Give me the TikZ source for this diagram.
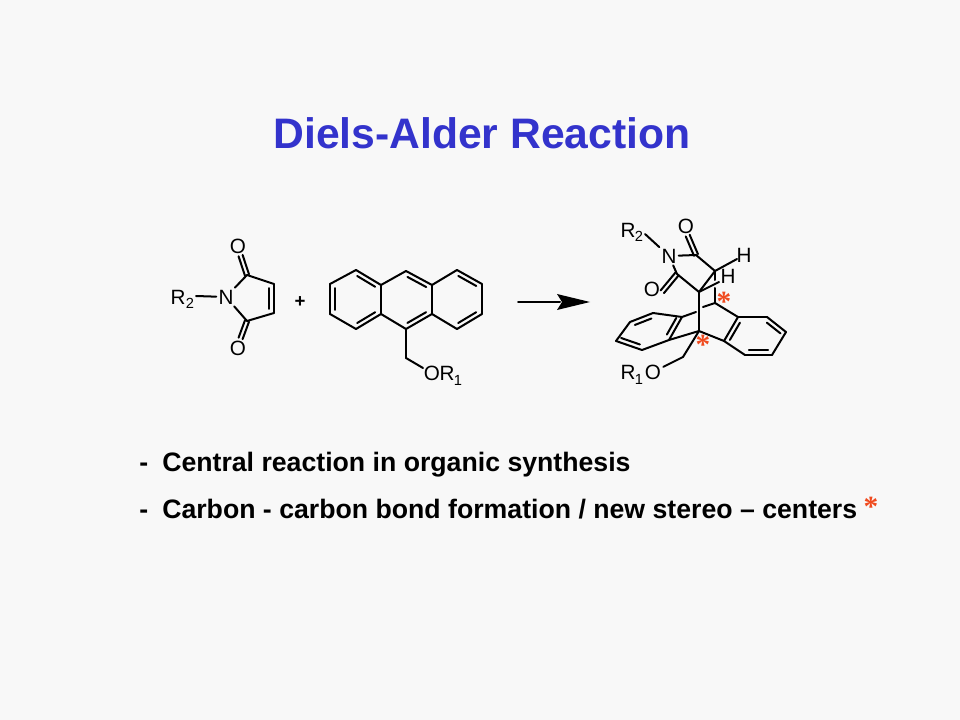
\documentclass[tikz,border=0pt]{standalone}
\usepackage{fontspec}
\setmainfont{Liberation Sans}
\newfontfamily\starfont{Liberation Serif}
\usetikzlibrary{calc}
\definecolor{pagebg}{HTML}{F8F8F8}
\definecolor{titleblue}{HTML}{3333CC}
\definecolor{starred}{HTML}{F04A1E}
\tikzset{
  bond/.style={line width=1.5pt,line cap=round,line join=round,black},
  atomlbl/.style={font=\fontsize{15.5pt}{17pt}\selectfont,inner sep=1.5pt,text=black},
  sublbl/.style={font=\fontsize{11pt}{12pt}\selectfont,inner sep=0pt,text=black},
  star/.style={font=\starfont\bfseries\fontsize{22pt}{22pt}\selectfont,inner sep=0pt,text=starred},
  titletext/.style={font=\fontsize{32pt}{36pt}\selectfont\bfseries,text=titleblue,inner sep=0pt,anchor=base},
  linetext/.style={font=\fontsize{20pt}{22pt}\selectfont\bfseries,text=black,anchor=base west,inner sep=0pt},
}
% parallel line beside a bond: from, to, offset, trim fraction
\newcommand{\dblb}[4]{\draw[bond] ($(#1)!#4!(#2)!#3!90:(#2)$) -- ($(#2)!#4!(#1)!#3!-90:(#1)$);}
% carbonyl: two parallel lines
\newcommand{\twin}[2]{\dblb{#1}{#2}{1.6pt}{0}\dblb{#1}{#2}{-1.6pt}{0}}
\newcommand{\bonds}[1]{\foreach \pa/\pb in {#1}{\draw[bond] (\pa) -- (\pb);}}
\begin{document}
\begin{tikzpicture}[x=0.75pt,y=-0.75pt]
\useasboundingbox[fill=pagebg] (0,0) rectangle (960,720);
\node[titletext] (title) at (482,149) {Diels-Alder Reaction};

% ---- maleimide
\node[atomlbl] (mR) at (178,297) {R};
\node[sublbl] (mR2) at (190,303) {2};
\node[atomlbl] (mN) at (226,297) {N};
\node[atomlbl] (mO1) at (238,246) {O};
\node[atomlbl] (mO2) at (238,348) {O};
\coordinate (mRb) at (196,296);
\foreach \n/\x/\y in {ma/247/275,mb/274/284,mc/274/313,md/247/321}{\coordinate (\n) at (\x,\y);}
\bonds{mRb/mN,mN/ma,ma/mb,mb/mc,mc/md,md/mN}
\twin{ma}{mO1.-75}
\twin{md}{mO2.75}
\dblb{mb}{mc}{-3.4pt}{.14}
\node[font=\fontsize{14pt}{16pt}\selectfont\bfseries,inner sep=0pt] (plus) at (300,302) {+};

% ---- anthracene
\foreach \n/\x/\y in {a1/330/284,a2/356/270,a3/381/285,a4/406/271,a5/432/285,a6/457/270,a7/482/284,a8/482/314,a9/457/329,a10/432/314,a11/406/329,a12/381/314,a13/356/329,a14/330/314,a15/406/358,a16/423/368}{\coordinate (\n) at (\x,\y);}
\bonds{a1/a2,a2/a3,a3/a4,a4/a5,a5/a6,a6/a7,a7/a8,a8/a9,a9/a10,a10/a11,a11/a12,a12/a13,a13/a14,a14/a1,a3/a12,a5/a10,a11/a15,a15/a16}
\dblb{a1}{a14}{3.4pt}{.14}
\dblb{a2}{a3}{-3.4pt}{.14}
\dblb{a12}{a13}{-3.4pt}{.14}
\dblb{a4}{a5}{-3.4pt}{.14}
\dblb{a6}{a7}{-3.4pt}{.14}
\dblb{a8}{a9}{-3.4pt}{.14}
\dblb{a10}{a11}{-3.4pt}{.14}
\node[atomlbl] (aO) at (432,373) {O};
\node[atomlbl] (aR) at (447,373) {R};
\node[sublbl] (aR1) at (458,380) {1};

% ---- arrow
\coordinate (arrS) at (518,302);
\coordinate (arrE) at (590,302);
\draw[bond] (arrS) -- (560,302);
\fill[black] (arrE) -- (557,294) -- (562,302) -- (557,310) -- cycle;

% ---- product
\node[atomlbl] (pR) at (628,230) {R};
\node[sublbl] (pR2) at (639,236) {2};
\node[atomlbl] (pN) at (669,256) {N};
\node[atomlbl] (pO1) at (686,226) {O};
\node[atomlbl] (pO2) at (652,289) {O};
\node[atomlbl] (pH1) at (744,255) {H};
\node[atomlbl] (pH2) at (728,276) {H};
\node[atomlbl] (pR1) at (628,372) {R};
\node[sublbl] (pR1s) at (639,379) {1};
\node[atomlbl] (pO3) at (653,372) {O};
\foreach \n/\x/\y in {c1/696/255,c2/677/274,c3/715/271,c4/699/292,c5/699/331,c6/715/303,c7/738/317,c8/767/317,c9/786/332,c10/772/355,c11/745/355,c12/724/341,c13/682/317,c14/653/313,c15/630/322,c16/616/341,c17/642/350,c18/669/340,c19/683/357,
  rb/645/234,h1e/737/259,h2e/719/282,c3g/715/280,c3h/715/288,c6g/703/307,c13g/696/312}{\coordinate (\n) at (\x,\y);}
\bonds{rb/pN,pN/c1,pN/c2,c1/c3,c2/c4,c3/h1e,c4/h2e,c3/c4,c4/c5,c3/c3g,c3h/c6,c6/c7,c6/c6g,c13g/c13,c5/c12,c5/c18,c5/c19,c19/pO3,
  c7/c8,c8/c9,c9/c10,c10/c11,c11/c12,c12/c7,c13/c14,c14/c15,c15/c16,c16/c17,c17/c18,c18/c13}
\twin{c1}{pO1.-80}
\twin{c2}{pO2.-15}
\dblb{c7}{c12}{3.4pt}{.14}
\dblb{c8}{c9}{-3.4pt}{.14}
\dblb{c10}{c11}{-3.4pt}{.14}
\dblb{c13}{c18}{-3.4pt}{.14}
\dblb{c14}{c15}{3.4pt}{.14}
\dblb{c16}{c17}{3.4pt}{.14}
\node[star] (s1) at (724,302) {*};
\node[star] (s2) at (703,345) {*};

% ---- text lines
\node[linetext] (l1a) at (139,471) {-};
\node[linetext] (l1) at (162,471) {Central reaction in organic synthesis};
\node[linetext] (l2a) at (139,518) {-};
\node[linetext] (l2) at (162,518) {Carbon - carbon bond formation / new stereo – centers};
\node[star] (s3) at (871,507) {*};
\end{tikzpicture}
\end{document}
